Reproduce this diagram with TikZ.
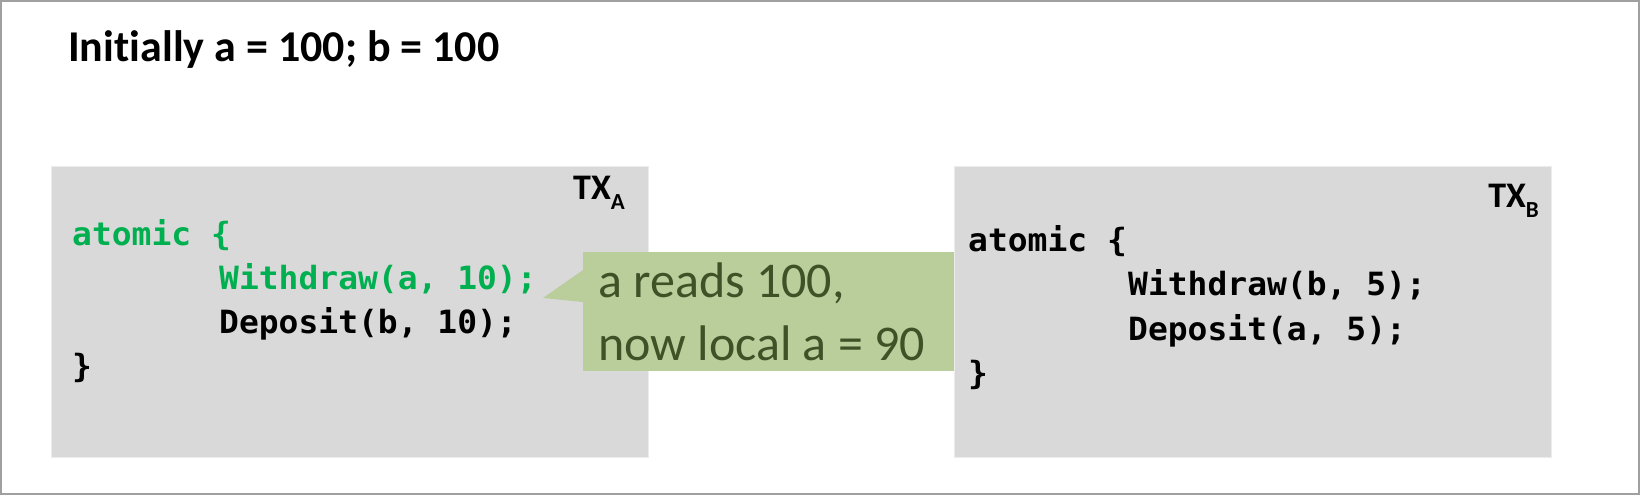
\documentclass[tikz,border=0pt]{standalone}
\usepackage{fontspec}
\setmainfont{Carlito}[Ligatures=NoCommon]
\newfontfamily\codefont{DejaVu Sans Mono}[FakeStretch=1.03]
\definecolor{boxgray}{HTML}{D9D9D9}
\definecolor{codegreen}{HTML}{00B050}
\definecolor{callfill}{HTML}{B9CE9B}
\definecolor{calltext}{HTML}{3F5126}
\definecolor{framegray}{HTML}{A0A0A0}
\tikzset{
  txbox/.style={fill=boxgray, draw=gray!15, line width=1pt, anchor=north west, inner sep=0, minimum width=597pt, minimum height=291pt},
  codeline/.style={anchor=base west, inner sep=0, font=\fontsize{32}{38}\selectfont\codefont\bfseries},
  txlabel/.style={anchor=base east, inner sep=0, font=\fontsize{36}{42}\selectfont\bfseries},
  calloutbox/.style={fill=callfill, anchor=north west, inner sep=0, minimum width=371pt, minimum height=119pt},
  callouttext/.style={anchor=base west, inner sep=0, text=calltext, font=\fontsize{50}{60}\selectfont},
}
\newcommand{\txname}[1]{TX\raisebox{-10pt}{\fontsize{23}{23}\selectfont #1}}
\begin{document}
\begin{tikzpicture}[x=1pt, y=-1pt]
\useasboundingbox (0,0) rectangle (1640,495);
\draw[framegray, line width=2pt] (1,1) rectangle (1639,494);
% title
\node[anchor=base west, inner sep=0, font=\fontsize{44}{50}\selectfont\bfseries] (title) at (68,61) {Initially a = 100; b = 100};
% transaction boxes
\node[txbox] (boxA) at (51,166) {};
\node[txbox] (boxB) at (954,166) {};
\node[txlabel] (labA) at (625,199) {\txname{A}};
\node[txlabel] (labB) at (1539,207) {\txname{B}};
% code A
\node[codeline, text=codegreen] (a1) at (72,245) {atomic \{};
\node[codeline, text=codegreen] (a2) at (219,289) {Withdraw(a, 10);};
\node[codeline] (a3) at (219,333) {Deposit(b, 10);};
\node[codeline] (a4) at (72,377) {\}};
% code B
\node[codeline] (b1) at (968,251) {atomic \{};
\node[codeline] (b2) at (1128,295) {Withdraw(b, 5);};
\node[codeline] (b3) at (1128,340) {Deposit(a, 5);};
\node[codeline] (b4) at (968,384) {\}};
% callout
\node[calloutbox] (call) at (583,252) {};
\coordinate (tip) at (543,298);
\fill[callfill] (tip) -- (583,270) -- (583,302) -- cycle;
\node[callouttext] (c1) at (598,297) {a reads 100,};
\node[callouttext] (c2) at (598,360) {now local a = 90};
\end{tikzpicture}
\end{document}
